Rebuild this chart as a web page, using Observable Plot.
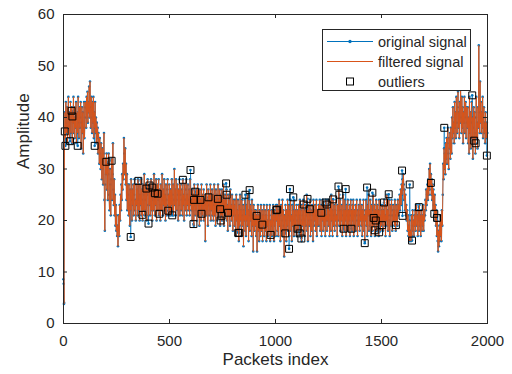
<!DOCTYPE html>
<html><head><meta charset="utf-8">
<script src="https://cdn.jsdelivr.net/npm/d3@7"></script>
<script src="https://cdn.jsdelivr.net/npm/@observablehq/plot@0.6"></script>
<style>
body{margin:0;background:#fff;}
#wrap{position:relative;width:512px;height:374px;font-family:'Liberation Sans',Arial,sans-serif;}
#legend{position:absolute;left:0;top:0;pointer-events:none;}
</style></head><body><div id="wrap"></div>
<script>
// first few packets (sensor start-up)
const headPackets = [0, 1, 2, 3];
const headValues = [8.6, 7.7, 3.8, 4.0];
// regular samples: packets 5, 7, 9, ..., 1999 (one row = 100 packets)
const mainStart = 5, mainStep = 2;
const mainValues = [
38,41,36,43,39,37,42,35,40,44, 38,41,36,39,43,37,40,42,35,41, 39,44,37,40,36,42,38,43,35,40, 41,37,44,39,36,42,38,40,43,34, 39,42,37,41,33,38,43,36,40,42,
43,38,44,40,45,39,43,41,46,40, 47,42,38,44,40,37,43,39,44,36, 41,38,43,37,40,35,39,36,38,33, 37,35,31,36,33,30,35,32,28,34, 30,27,33,37,24,18,27,32,29,33,
26,31,24,29,33,25,22,30,27,21, 28,32,24,29,35,26,23,28,21,25, 19,23,18,21,17,19,15,18,21,17, 23,20,25,22,27,24,29,26,31,28, 36,33,29,34,27,31,24,29,22,27,
25,21,27,23,19,26,22,28,24,20, 26,23,27,21,25,28,22,24,20,27, 23,26,21,28,24,22,27,20,25,23, 28,21,26,24,20,27,22,25,29,21, 24,27,22,26,20,25,28,23,21,26,
23,27,21,25,28,22,26,20,24,27, 22,29,24,21,26,23,28,20,25,27, 22,24,28,21,26,23,20,27,25,22, 29,24,21,26,23,28,22,25,20,27, 24,21,26,28,23,25,21,27,22,26,
21,26,23,28,22,25,27,21,24,30, 23,26,21,28,24,22,27,25,20,26, 23,28,21,25,27,22,24,26,21,28, 23,25,20,27,24,22,26,28,21,25, 23,27,22,24,26,21,28,23,25,22,
24,20,26,22,25,19,27,23,21,25, 22,26,20,24,27,21,23,25,19,26, 22,24,20,27,23,21,25,22,26,20, 24,23,16,25,21,27,22,24,19,26, 23,21,25,22,27,20,24,22,26,21,
25,20,23,27,21,24,19,26,22,25, 20,23,27,21,24,22,26,19,25,23, 21,26,20,24,22,27,19,23,25,21, 24,22,26,20,23,18,25,21,24,22, 19,26,21,23,20,25,22,18,24,21,
23,19,24,21,17,25,20,22,18,24, 21,16,23,19,25,20,22,17,24,21, 19,23,15,22,20,24,18,21,17,23, 20,25,19,22,16,24,21,18,23,20, 22,17,24,19,21,14,23,20,18,22,
19,22,17,21,14,20,23,18,21,16, 22,19,17,23,20,18,22,16,21,19, 23,17,20,22,18,21,16,23,19,20, 17,22,18,21,23,16,20,19,22,17, 21,18,23,20,16,22,19,21,17,23,
20,23,18,22,17,21,24,19,22,16, 21,23,18,20,24,17,22,19,13,21, 18,23,20,16,22,19,24,18,21,23, 17,22,20,24,18,21,16,23,19,22, 20,17,24,19,22,18,21,23,17,20,
22,18,23,19,21,24,17,22,20,16, 23,19,21,24,18,22,20,17,23,19, 21,25,18,22,16,20,23,19,21,24, 17,22,20,18,23,21,16,24,19,22, 20,23,18,21,24,17,22,19,21,23,
19,22,24,18,21,23,17,22,20,24, 18,21,23,19,22,17,24,20,21,18, 23,20,24,19,22,17,21,23,18,25, 20,22,17,24,19,21,23,18,22,20, 24,19,21,17,23,20,22,26,19,22,
24,18,22,20,23,17,21,25,19,22, 18,24,20,22,17,23,21,19,24,18, 22,20,23,17,21,24,19,22,18,23, 20,24,17,21,22,19,23,18,21,24, 20,17,22,19,23,21,18,24,20,22,
19,23,17,22,20,24,18,21,16,22, 20,24,19,22,17,23,21,25,18,22, 19,24,20,17,23,21,18,22,25,19, 21,23,17,22,20,24,18,21,23,19, 22,17,24,20,21,18,23,19,22,20,
23,18,22,20,24,19,21,17,23,20, 25,19,22,18,21,24,20,17,23,21, 19,24,22,18,21,23,20,22,19,24, 21,18,23,20,22,19,24,21,23,22, 25,22,24,26,23,27,25,28,26,29,
27,24,26,22,25,21,23,20,22,18, 21,17,19,16,20,17,18,16,21,17, 19,22,18,20,17,21,19,22,18,21, 23,19,21,17,22,20,18,23,19,21, 17,22,20,18,21,19,23,18,22,20,
21,24,22,26,23,25,27,24,28,25, 30,26,31,27,29,25,28,24,27,22, 26,23,21,25,20,23,19,22,17,20, 16,14,18,15,19,16,21,17,20,16, 22,19,25,31,28,34,30,33,29,35,
32,36,31,35,38,33,30,36,34,37, 32,38,35,33,40,36,42,37,39,35, 43,38,41,36,44,39,37,42,45,38, 41,36,43,39,46,40,37,44,38,42, 35,41,39,44,37,40,43,36,42,39,
38,42,35,40,33,44,37,41,34,39, 43,36,40,32,38,42,35,41,37,33, 40,44,36,39,34,42,38,54,41,37, 47,39,43,37,41,38,44,36,40,42, 37,39,35,41,38,36,39,37
];
// outliers removed by the filter (packet, amplitude)
const outlierPackets = [6,9,31,38,42,67,147,202,227,317,353,372,391,401,406,419,431,444,452,494,513,563,599,613,616,621,646,651,684,728,739,741,746,767,769,776,824,829,858,878,911,938,977,1004,1008,1046,1064,1068,1084,1104,1114,1122,1133,1151,1162,1216,1236,1242,1272,1297,1301,1321,1331,1358,1421,1432,1457,1463,1468,1473,1489,1503,1512,1534,1568,1597,1599,1633,1644,1676,1733,1749,1762,1796,1928,1937,1944,1997];
const outlierValues = [37.3,34.5,35.4,41.3,40.2,34.5,34.5,31.4,31.6,16.8,27.7,21.1,26.2,19.4,26.8,26.4,25.3,25.2,21.3,21.9,21.0,27.9,29.8,19.3,24.0,25.6,24.0,21.3,24.5,24.2,22.2,20.0,20.9,27.2,25.0,21.5,17.6,17.6,25.0,25.9,20.9,19.2,17.2,22.0,22.1,17.5,14.5,26.1,24.5,18.4,17.5,16.5,23.1,24.2,22.2,21.5,23.5,23.1,24.1,26.6,25.0,18.4,26.1,18.4,15.6,26.4,25.4,20.5,18.1,20.0,17.7,19.1,23.5,25.1,19.1,29.7,20.9,27.0,16.1,22.6,27.3,21.3,20.5,38.0,44.3,35.5,35.0,32.6];

const xTicks = [0, 500, 1000, 1500, 2000];
const yTicks = [0, 10, 20, 30, 40, 50, 60];
const seriesNames = ["original signal", "filtered signal", "outliers"];
const xLabel = "Packets index";
const yLabel = "Amplitude";

const BLUE = "#0072BD", ORANGE = "#D95319", INK = "#262626";

const filtered = headPackets.map((p, i) => ({packet: p, value: headValues[i]}))
  .concat(mainValues.map((v, i) => ({packet: mainStart + i * mainStep, value: v})));
const outliers = outlierPackets.map((p, i) => ({packet: p, value: outlierValues[i]}));
const original = filtered.concat(outliers).sort((a, b) => a.packet - b.packet);

const W = 512, H = 374, mL = 63, mR = 25, mT = 14, mB = 51;
const innerW = W - mL - mR, innerH = H - mT - mB, tickLen = 4;

const chart = Plot.plot({
  width: W, height: H,
  marginLeft: mL, marginRight: mR, marginTop: mT, marginBottom: mB,
  x: {domain: [0, 2000]},
  y: {domain: [0, 60]},
  style: {fontFamily: "'Liberation Sans', Arial, sans-serif", fontSize: "15px", color: INK, background: "#fff"},
  marks: [
    Plot.line(original, {x: "packet", y: "value", stroke: BLUE, strokeWidth: 0.7}),
    Plot.dot(original, {x: "packet", y: "value", fill: BLUE, r: 1.3}),
    Plot.line(filtered, {x: "packet", y: "value", stroke: ORANGE, strokeWidth: 0.9}),
    Plot.dot(outliers, {x: "packet", y: "value", symbol: "square", stroke: "#000", fill: "none", r: 3.9, strokeWidth: 1}),
    Plot.frame({stroke: INK}),
    Plot.tickX(xTicks, {x: d => d, stroke: INK, insetTop: innerH - tickLen}),
    Plot.tickX(xTicks, {x: d => d, stroke: INK, insetBottom: innerH - tickLen}),
    Plot.tickY(yTicks, {y: d => d, stroke: INK, insetRight: innerW - tickLen}),
    Plot.tickY(yTicks, {y: d => d, stroke: INK, insetLeft: innerW - tickLen}),
    Plot.axisX(xTicks, {tickSize: 0, tickPadding: 12, label: null, fontSize: 15, fill: INK, tickFormat: d => String(d)}),
    Plot.axisY(yTicks, {tickSize: 0, tickPadding: 9, label: null, fontSize: 15, fill: INK, tickFormat: d => String(d)}),
    Plot.text([xLabel], {text: d => d, frameAnchor: "bottom", dy: 41, fontSize: 17, fill: INK}),
    Plot.text([yLabel], {text: d => d, frameAnchor: "left", dx: -40, rotate: -90, fontSize: 17, fill: INK})
  ]
});
const wrap = document.getElementById("wrap");
wrap.appendChild(chart);

// legend (inside the axes, top-right like MATLAB)
const lg = d3.select(wrap).append("svg").attr("id", "legend").attr("width", W).attr("height", H);
const bx = 322.5, by = 29.5, bw = 148, bh = 61;
lg.append("rect").attr("x", bx).attr("y", by).attr("width", bw).attr("height", bh)
  .attr("fill", "#fff").attr("stroke", INK).attr("stroke-width", 1);
const rowY = [41.5, 61.5, 81.5];
const g = lg.append("g").attr("font-family", "'Liberation Sans', Arial, sans-serif").attr("font-size", 14.5).attr("fill", INK);
g.append("line").attr("x1", 327).attr("x2", 373).attr("y1", rowY[0]).attr("y2", rowY[0]).attr("stroke", BLUE).attr("stroke-width", 1);
g.append("circle").attr("cx", 350).attr("cy", rowY[0]).attr("r", 1.7).attr("fill", BLUE);
g.append("line").attr("x1", 327).attr("x2", 373).attr("y1", rowY[1]).attr("y2", rowY[1]).attr("stroke", ORANGE).attr("stroke-width", 1);
g.append("rect").attr("x", 346.5).attr("y", rowY[2] - 3.5).attr("width", 7).attr("height", 7).attr("fill", "none").attr("stroke", "#000").attr("stroke-width", 1);
seriesNames.forEach((s, i) => {
  g.append("text").attr("x", 378).attr("y", rowY[i]).attr("dy", "0.35em").text(s);
});
</script></body></html>
